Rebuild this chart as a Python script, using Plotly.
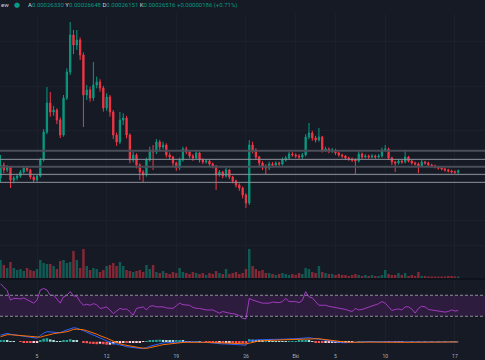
import pandas as pd
import plotly.graph_objects as go
from plotly.subplots import make_subplots

# ---------------- data (prices in units of 1e-6) ----------------
DATES = pd.date_range("2023-09-01 08:00", periods=139, freq="8h")

FIRST_OPEN = 256.4
CLOSE = [272.0, 266.0, 269.6, 254.0, 256.4, 258.8, 263.6, 268.4, 266.0, 257.6,
         254.0, 258.8, 278.0, 311.6, 346.4, 335.6, 338.0, 326.0, 308.0, 352.4,
         383.6, 428.0, 416.0, 422.0, 404.0, 356.0, 362.0, 352.4, 368.0, 371.6,
         364.4, 340.4, 353.6, 335.6, 308.0, 299.6, 326.0, 328.4, 308.0, 278.0,
         284.0, 272.0, 263.6, 260.0, 278.0, 290.0, 287.6, 299.6, 293.6, 296.0,
         284.0, 281.6, 274.4, 268.4, 278.0, 291.2, 287.6, 282.8, 280.4, 286.4,
         278.0, 275.6, 276.8, 273.2, 270.8, 260.0, 263.6, 258.8, 266.0, 257.6,
         252.8, 248.0, 244.4, 236.0, 226.4, 296.0, 290.0, 281.6, 274.4, 270.8,
         268.4, 273.2, 272.0, 274.4, 273.2, 278.0, 280.4, 285.2, 284.0, 282.8,
         281.6, 284.0, 305.6, 310.4, 304.4, 302.0, 305.6, 290.0, 291.2, 288.8,
         290.0, 286.4, 284.0, 282.8, 280.4, 279.2, 278.0, 276.8, 285.2, 281.6,
         282.8, 281.6, 282.8, 281.6, 282.8, 290.0, 291.2, 280.4, 275.6, 274.4,
         276.8, 275.6, 281.6, 276.8, 274.4, 273.2, 270.8, 275.6, 274.4, 272.0,
         270.8, 269.6, 268.4, 267.2, 266.0, 264.8, 263.6, 263.3, 265.16]
OPEN = [FIRST_OPEN] + CLOSE[:-1]
HIGH = [284.0, 275.0, 272.0, 271.0, 259.0, 261.0, 266.0, 271.0, 270.5, 267.5,
        259.5, 261.0, 280.5, 315.0, 365.6, 359.6, 343.0, 340.0, 329.0, 356.0,
        388.0, 443.6, 434.0, 434.0, 425.0, 407.0, 368.0, 366.0, 395.6, 378.0,
        375.0, 367.0, 358.0, 356.0, 338.0, 311.0, 335.6, 334.0, 331.0, 310.0,
        288.0, 286.0, 274.0, 266.0, 281.0, 294.0, 296.0, 303.0, 302.0, 300.0,
        298.0, 287.0, 283.0, 276.0, 281.0, 294.0, 294.0, 289.0, 285.0, 290.0,
        288.0, 280.0, 279.0, 278.5, 275.0, 272.0, 266.0, 265.0, 269.0, 267.5,
        259.0, 254.5, 250.0, 246.0, 238.0, 302.0, 300.0, 292.0, 283.0, 276.5,
        273.0, 276.0, 275.5, 276.5, 276.0, 281.0, 283.0, 288.0, 287.5, 286.0,
        285.0, 286.5, 309.0, 322.4, 313.0, 307.0, 316.4, 307.0, 294.0, 293.0,
        292.5, 291.5, 288.0, 285.5, 284.0, 282.0, 281.0, 280.0, 290.0, 287.0,
        285.0, 284.5, 285.0, 284.5, 285.0, 293.0, 296.0, 293.0, 282.0, 277.0,
        279.0, 278.5, 290.0, 283.0, 278.5, 276.0, 275.0, 278.0, 277.0, 276.0,
        273.5, 272.5, 271.0, 270.0, 268.8, 267.5, 266.5, 265.5, 266.48]
LOW = [251.6, 262.0, 263.5, 244.4, 250.0, 253.5, 256.5, 261.5, 263.5, 255.0,
       251.0, 252.0, 257.0, 276.0, 309.0, 330.0, 331.0, 321.0, 304.4, 306.0,
       350.0, 380.0, 405.0, 410.0, 398.0, 317.6, 350.0, 348.0, 349.0, 364.0,
       360.0, 336.0, 337.0, 330.0, 303.0, 295.0, 297.0, 320.0, 304.0, 274.0,
       275.0, 268.0, 254.0, 251.6, 258.0, 276.0, 266.0, 285.0, 290.0, 291.0,
       281.0, 278.0, 270.0, 265.0, 266.0, 276.0, 285.0, 280.0, 277.0, 279.0,
       275.0, 273.0, 273.5, 271.0, 268.0, 242.0, 258.0, 256.0, 257.0, 255.0,
       250.0, 245.0, 241.0, 232.0, 220.4, 224.0, 286.0, 278.0, 270.0, 266.0,
       261.2, 266.0, 269.5, 270.0, 271.0, 271.5, 276.0, 278.5, 282.0, 280.5,
       279.5, 279.5, 282.0, 303.0, 301.0, 299.0, 300.0, 287.0, 287.5, 286.0,
       286.5, 284.0, 282.0, 280.5, 278.0, 277.0, 275.5, 261.2, 275.0, 279.5,
       280.0, 279.5, 280.0, 279.5, 280.0, 281.0, 288.0, 278.0, 272.0, 263.6,
       272.5, 273.5, 274.0, 275.0, 272.5, 271.5, 262.4, 269.5, 272.5, 270.5,
       269.0, 268.0, 266.5, 265.5, 264.0, 263.0, 262.0, 261.5, 261.51]

VOLUME = [18, 13, 10, 16, 10, 8, 9, 7, 10, 8,
          7, 9, 18, 15, 14, 14, 12, 9, 17, 18,
          15, 16, 27, 18, 10, 29, 12, 8, 10, 9,
          6, 8, 12, 13, 15, 12, 16, 12, 8, 7,
          6, 7, 8, 6, 13, 9, 13, 6, 5, 7,
          5, 4, 6, 5, 10, 6, 5, 4, 6, 5,
          4, 5, 3, 5, 4, 7, 5, 4, 9, 4,
          5, 6, 4, 5, 9, 29, 12, 9, 7, 8,
          5, 5, 4, 3, 4, 5, 4, 3, 4, 3,
          5, 4, 10, 9, 6, 5, 12, 6, 5, 4,
          4, 3, 4, 3, 3, 2, 3, 4, 3, 2,
          3, 2, 3, 2, 2, 3, 8, 4, 3, 3,
          5, 3, 5, 2, 3, 2, 6, 2, 2, 1.5,
          1.5, 1.5, 1.5, 1.5, 1.5, 2, 2, 1.5, 1.5]

RSI = [92, 86, 79, 61, 64, 64, 63, 65, 62, 58,
       55, 61, 80, 83, 80, 70, 70, 63, 55, 67,
       70, 77, 69, 68, 58, 51, 53, 51, 54, 52,
       45, 46, 48, 42, 35, 40, 45, 43, 44, 39,
       32, 45, 47, 48, 42, 49, 50, 48, 48, 48,
       46, 45, 45, 50, 55, 52, 51, 51, 47, 45,
       45, 43, 42, 42, 42, 39, 36, 39, 37, 36,
       35, 34, 31, 26, 25, 64, 61, 59, 57, 55,
       55, 55, 57, 57, 56, 58, 64, 58, 58, 58,
       56, 60, 77, 67, 65, 58, 51, 51, 51, 49,
       48, 46, 45, 44, 43, 41, 39, 45, 42, 43,
       45, 47, 49, 51, 54, 58, 55, 48, 41, 43,
       44, 42, 48, 48, 44, 36, 45, 49, 48, 43,
       42, 42, 41, 39, 38, 39, 42, 40, 41]

MACD = [13, 15, 16.7, 15, 14, 13, 12, 11, 10, 8.5,
        7.5, 7, 12, 17, 20, 19.5, 19, 18, 18, 21,
        23.4, 27, 28, 27, 25, 22, 19, 16, 13, 10,
        8, 5, 1, -2, -4, -5, -6, -8, -10, -11,
        -12, -13, -13.3, -13.3, -12, -9, -7, -5, -3.5, -2.5,
        -2, -1.5, -1, -0.5, 0, 0, 0, 0, 0, 0,
        -0.5, -1, -1.5, -2, -3, -3.5, -4, -4.5, -4.5, -4.7,
        -5, -5.5, -6, -6.5, -7, 2, 3, 3.5, 4, 4,
        4.5, 4.5, 4.7, 4.7, 4.7, 4.7, 4.8, 5, 5.5, 6,
        6.5, 7.5, 8, 8, 7, 6, 4.7, 3, 2, 1,
        0, -1, -1.5, -2, -2, -2, -2, -1.5, -1, -0.5,
        0, 0, -0.5, -0.5, -0.5, -0.5, -1, -1, -1.3, -1.3,
        -1.3, -1.3, -1.2, -1.2, -1.1, -1.1, -1.0, -1.0, -0.9, -0.9,
        -0.8, -0.8, -0.7, -0.7, -0.6, -0.6, -0.5, -0.5, -0.5]
SIGNAL = [10, 12, 14, 14, 13.5, 13, 12.5, 12, 11.5, 10.5,
          9.5, 8.5, 9, 11, 13, 15, 16, 17, 17.5, 18,
          20, 22, 24.7, 25, 25, 24, 22, 20, 17.5, 15,
          12, 10, 7, 4, 1, -2, -4, -6, -7.5, -9,
          -10, -11, -12, -13, -13.3, -12, -10, -8.7, -7.5, -6,
          -5, -4, -3, -2.5, -2, -1.5, -1.2, -1, -1, -1,
          -1, -1, -1.2, -1.5, -1.8, -2, -2.5, -2.8, -3, -3.2,
          -3.3, -3.5, -3.8, -4, -4.3, -3, -1, 0.5, 1.5, 2,
          2.5, 3, 3.3, 3.5, 3.7, 3.9, 4, 4.2, 4.4, 4.6,
          5, 5.5, 6, 6.5, 6.8, 6.7, 6, 5, 4, 3,
          2, 1, 0.3, -0.3, -0.8, -1.2, -1.4, -1.5, -1.4, -1.2,
          -1, -0.8, -0.7, -0.7, -0.7, -0.7, -0.8, -0.9, -1, -1.1,
          -1.2, -1.2, -1.2, -1.2, -1.2, -1.1, -1.1, -1.0, -1.0, -0.9,
          -0.9, -0.8, -0.8, -0.7, -0.7, -0.6, -0.6, -0.6, -0.5]
HIST = [m - s for m, s in zip(MACD, SIGNAL)]  # MACD histogram definition

LEVELS_STRONG = [289.2, 270.0]
LEVELS_LIGHT = [278.8, 260.8, 251.2]
PRICE_GRID = [420, 366, 314, 260, 206]
RSI_BAND = [30, 70]

TICK_DATES = ["2023-09-05", "2023-09-12", "2023-09-19", "2023-09-26",
              "2023-10-01", "2023-10-05", "2023-10-10", "2023-10-17"]
TICK_TEXT = ["5", "12", "19", "26", "Eki", "5", "10", "17"]
X_RANGE = ["2023-09-01 06:45", "2023-10-20 00:36"]

HEADER_LABELS = ["A", "Y", "D", "K"]
HEADER_VALUES = ["0.00026330", "0.00026648", "0.00026151", "0.00026516"]
HEADER_CHANGE = "+0.00000186 (+0.71%)"

# ---------------- style ----------------
BG = "#161a25"
GRID = "#1c202b"
UP = "#089981"
DOWN = "#f23645"
FONT = "Roboto"

fig = make_subplots(rows=4, cols=1, shared_xaxes=True, vertical_spacing=0)

fig.add_trace(go.Candlestick(
    x=DATES, open=OPEN, high=HIGH, low=LOW, close=CLOSE,
    increasing=dict(line=dict(color=UP, width=1), fillcolor=UP),
    decreasing=dict(line=dict(color=DOWN, width=1), fillcolor=DOWN),
    whiskerwidth=0, showlegend=False, hoverinfo="skip"), row=1, col=1)

vol_colors = ["rgba(8,153,129,0.5)" if c >= o else "rgba(242,54,69,0.5)"
              for o, c in zip(OPEN, CLOSE)]
fig.add_trace(go.Bar(x=DATES, y=VOLUME, marker=dict(color=vol_colors, line_width=0),
                     showlegend=False, hoverinfo="skip"), row=2, col=1)

fig.add_trace(go.Scatter(x=DATES, y=RSI, mode="lines",
                         line=dict(color="#a33fc4", width=1),
                         showlegend=False, hoverinfo="skip"), row=3, col=1)
fig.add_hrect(y0=RSI_BAND[0], y1=RSI_BAND[1], fillcolor="rgba(156,39,176,0.18)",
              line_width=0, row=3, col=1)
for lv in RSI_BAND:
    fig.add_hline(y=lv, line=dict(color="#8a8d96", width=1, dash="3px,2px"), row=3, col=1)

hist_colors = []
for i, h in enumerate(HIST):
    prev = HIST[i - 1] if i > 0 else h
    if h >= 0:
        hist_colors.append("#26a69a" if h >= prev else "#b2dfdb")
    else:
        hist_colors.append("#ffcdd2" if h >= prev else "#ff5252")
fig.add_trace(go.Bar(x=DATES, y=HIST, marker=dict(color=hist_colors, line_width=0),
                     showlegend=False, hoverinfo="skip"), row=4, col=1)
fig.add_trace(go.Scatter(x=DATES, y=MACD, mode="lines", line=dict(color="#2962ff", width=1),
                         showlegend=False, hoverinfo="skip"), row=4, col=1)
fig.add_trace(go.Scatter(x=DATES, y=SIGNAL, mode="lines", line=dict(color="#ff6d00", width=1),
                         showlegend=False, hoverinfo="skip"), row=4, col=1)

for lv in LEVELS_STRONG:
    fig.add_hline(y=lv, line=dict(color="#4a4e59", width=2), row=1, col=1)
for lv in LEVELS_LIGHT:
    fig.add_hline(y=lv, line=dict(color="#8f939d", width=1), row=1, col=1)

# ---------------- axes ----------------
fig.update_xaxes(range=X_RANGE, tickvals=TICK_DATES, ticktext=TICK_TEXT,
                 showgrid=True, gridcolor=GRID, gridwidth=1, zeroline=False,
                 rangeslider_visible=False, showticklabels=False, ticks="",
                 showline=False, fixedrange=True)
fig.update_xaxes(showticklabels=True, ticklabelstandoff=1,
                 tickfont=dict(family=FONT, size=5, color="#b2b5be"), row=4, col=1)
fig.update_xaxes(showline=True, linecolor="#0f121a", linewidth=2, row=2, col=1)

fig.update_yaxes(showticklabels=False, zeroline=False, ticks="", showline=False,
                 fixedrange=True)
fig.update_yaxes(domain=[1 - 240 / 360, 1 - 14 / 360], range=[182, 453.2],
                 tickvals=PRICE_GRID, showgrid=True, gridcolor=GRID, row=1, col=1)
fig.update_yaxes(domain=[1 - 278 / 360, 1 - 240 / 360], range=[0, 38],
                 tickvals=[33], showgrid=True, gridcolor=GRID, row=2, col=1)
fig.update_yaxes(domain=[1 - 324 / 360, 1 - 280 / 360], range=[15.3, 99.1],
                 showgrid=False, row=3, col=1)
fig.update_yaxes(domain=[1 - 351 / 360, 1 - 324 / 360], range=[-18.6, 35.4],
                 showgrid=False, row=4, col=1)

# ---------------- header ----------------
parts = []
for lab, val in zip(HEADER_LABELS, HEADER_VALUES):
    parts.append(f"<span style='color:#d1d4dc'>{lab}</span>"
                 f"<span style='color:{UP}'>{val}</span>")
header = " ".join(parts) + f" <span style='color:{UP}'>{HEADER_CHANGE}</span>"

annotations = [
    dict(text="ew", x=0, y=1 - 5 / 360, xref="paper", yref="paper", xanchor="left",
         yanchor="middle", showarrow=False, borderpad=0,
         font=dict(family=FONT, size=6, color="#d1d4dc")),
    dict(text="●", x=17 / 485, y=1 - 5 / 360, xref="paper", yref="paper", xanchor="center",
         yanchor="middle", showarrow=False, borderpad=0,
         font=dict(family="DejaVu Sans", size=7, color=UP)),
    dict(text=header, x=27 / 485, y=1 - 5 / 360, xref="paper", yref="paper", xanchor="left",
         yanchor="middle", showarrow=False, borderpad=0,
         font=dict(family=FONT, size=6, color=UP)),
]

fig.update_layout(
    width=485, height=360,
    margin=dict(l=0, r=0, t=0, b=0),
    paper_bgcolor=BG, plot_bgcolor=BG,
    bargap=0.25, boxgap=0.45, showlegend=False,
    annotations=annotations,
    hovermode=False,
)

fig.write_html(
    "out.html",
    config={"displayModeBar": False},
    post_script=("document.body.style.margin='0';"
                 "document.body.style.padding='0';"
                 "document.body.style.background='#161a25';"
                 "document.documentElement.style.overflow='hidden';"),
)
